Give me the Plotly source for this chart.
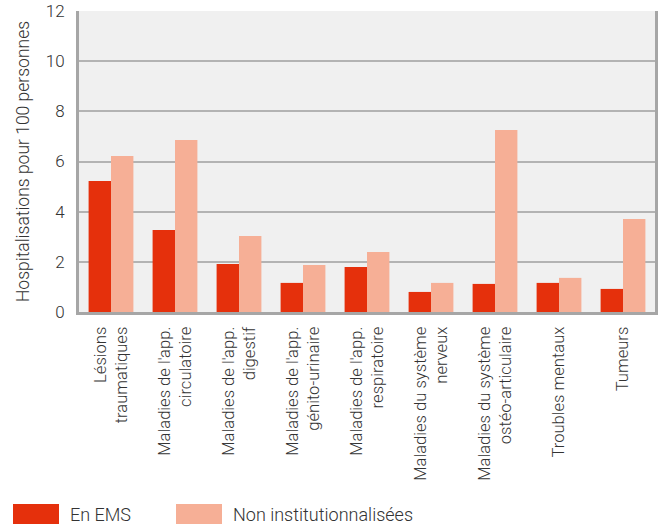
import plotly.graph_objects as go

categories = [
    "Lésions<br>traumatiques",
    "Maladies de l'app.<br>circulatoire",
    "Maladies de l'app.<br>digestif",
    "Maladies de l'app.<br>génito-urinaire",
    "Maladies de l'app.<br>respiratoire",
    "Maladies du système<br>nerveux",
    "Maladies du système<br>ostéo-articulaire",
    "Troubles mentaux",
    "Tumeurs",
]
series_names = ["En EMS", "Non institutionnalisées"]
ems = [5.22, 3.27, 1.91, 1.16, 1.79, 0.80, 1.12, 1.16, 0.92]
non_inst = [6.22, 6.86, 3.03, 1.87, 2.39, 1.16, 7.26, 1.36, 3.71]
colors = ["#e5300c", "#f6af96"]
y_ticks = [0, 2, 4, 6, 8, 10, 12]

FONT = "Roboto Light, Roboto"
TXT = "#333333"

fig = go.Figure()
fig.add_trace(go.Bar(x=categories, y=ems, name=series_names[0], marker_color=colors[0],
                     marker_line_width=0, showlegend=False))
fig.add_trace(go.Bar(x=categories, y=non_inst, name=series_names[1], marker_color=colors[1],
                     marker_line_width=0, showlegend=False))

# custom legend (large swatches like the reference)
leg_x = [13, 176]
for i, (nm, c) in enumerate(zip(series_names, colors)):
    fig.add_shape(type="rect", xref="paper", yref="paper",
                  x0=(leg_x[i] - 79) / 576, x1=(leg_x[i] + 46 - 79) / 576,
                  y0=-(504 - 312) / 301, y1=-(524 - 312) / 301,
                  fillcolor=c, line_width=0)
    fig.add_annotation(xref="paper", yref="paper",
                       x=(leg_x[i] + 55 - 79) / 576, y=-(514 - 312) / 301,
                       text=nm, showarrow=False, xanchor="left", yanchor="middle",
                       font=dict(family=FONT, size=18, color=TXT, weight=300))

fig.update_layout(
    width=663, height=529,
    margin=dict(l=79, r=8, t=11, b=217, autoexpand=False),
    paper_bgcolor="white",
    plot_bgcolor="#f0f0f0",
    barmode="group",
    bargap=0.3,
    bargroupgap=0,
    font=dict(family=FONT, color=TXT, size=16, weight=300),
)
fig.update_xaxes(
    automargin=False,
    tickangle=-90,
    tickfont=dict(family=FONT, size=16.6, color=TXT, weight=300),
    showline=True, linecolor="#a6a6a6", linewidth=3,
    showgrid=False, ticks="", ticklabelstandoff=5,
)
fig.update_yaxes(
    automargin=False,
    range=[0, 12], tickvals=y_ticks,
    tickfont=dict(family=FONT, size=17, color=TXT, weight=300),
    showgrid=True, gridcolor="#b3b3b3", gridwidth=2,
    showline=True, linecolor="#a6a6a6", linewidth=3, mirror=True,
    zeroline=False, ticks="", ticklabelstandoff=8,
    title=dict(text="Hospitalisations pour 100 personnes",
               font=dict(family=FONT, size=17.5, color=TXT, weight=300), standoff=12),
)

fig.write_html(
    "out.html",
    config={"displayModeBar": False},
    post_script="document.body.style.margin='0px';document.body.style.overflow='hidden';",
)
